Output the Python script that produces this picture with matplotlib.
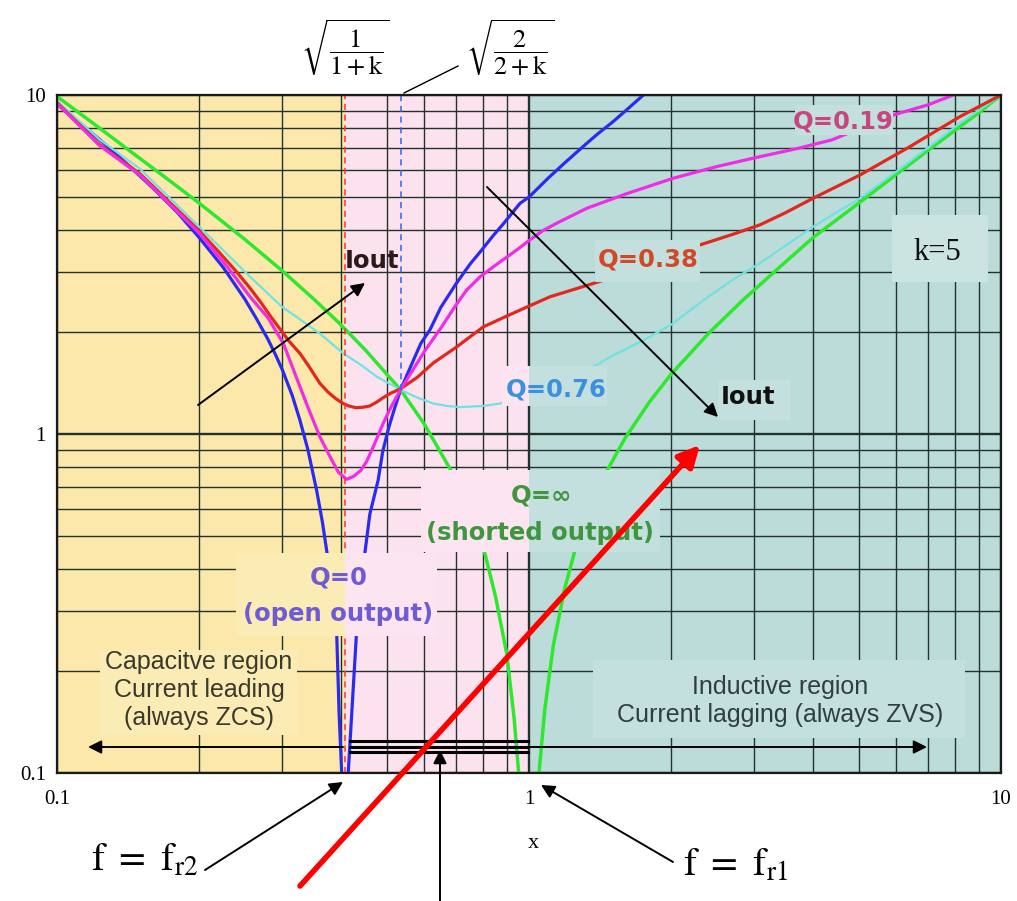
import numpy as np
import matplotlib.pyplot as plt
from matplotlib.patches import Rectangle
from matplotlib.colors import to_rgb
from matplotlib.ticker import NullFormatter

plt.rcParams['mathtext.fontset'] = 'stix'

# LLC gain curves, k = 5, x = f / fr1
fr2 = 0.408      # sqrt(1/(1+k))
fx = 0.5345      # sqrt(2/(2+k))
fr1 = 1.0

# Q = 0 (open output)
q0_left_x = [0.1, 0.11, 0.123, 0.14, 0.16, 0.18, 0.2, 0.225, 0.25, 0.265, 0.28, 0.29, 0.3, 0.315, 0.327,
             0.34, 0.355, 0.365, 0.3757, 0.3913, 0.396, 0.401]
q0_left_y = [9.4, 8.4, 7.4, 6.3, 5.3, 4.5, 3.8, 3.1, 2.5, 2.18, 1.9, 1.72, 1.55, 1.3, 1.1,
             0.90, 0.68, 0.55, 0.42, 0.26, 0.15, 0.1]
q0_right_x = [0.414, 0.431, 0.449, 0.46, 0.479, 0.49, 0.505, 0.52, 0.5345, 0.55, 0.57, 0.59, 0.617, 0.65,
              0.70, 0.75, 0.794, 0.84, 0.88, 0.957, 1.0, 1.1, 1.2, 1.325, 1.4, 1.5, 1.6, 1.747]
q0_right_y = [0.1, 0.258, 0.445, 0.58, 0.73, 0.89, 1.05, 1.2, 1.35, 1.48, 1.66, 1.85, 2.03, 2.36,
              2.77, 3.17, 3.49, 3.85, 4.15, 4.79, 5.0, 5.7, 6.37, 7.2, 7.69, 8.3, 8.97, 10]

# Q = 0.19
q019_x = [0.1, 0.123, 0.15, 0.2, 0.23, 0.2564, 0.28, 0.3017, 0.3245, 0.34, 0.3607, 0.38, 0.395, 0.411, 0.425,
          0.44, 0.453, 0.47, 0.491, 0.51, 0.5345, 0.56, 0.6, 0.65, 0.7, 0.738, 0.79, 0.85, 0.942, 1.0, 1.07,
          1.15, 1.325, 1.6, 2.02, 2.5, 3.087, 3.7, 4.38, 5.91, 7.0, 7.93]
q019_y = [9.45, 7.1, 5.8, 3.92, 3.1, 2.54, 2.2, 1.85, 1.42, 1.2, 0.98, 0.85, 0.77, 0.735, 0.75,
          0.78, 0.83, 0.93, 1.075, 1.2, 1.35, 1.5, 1.75, 2.05, 2.4, 2.66, 2.92, 3.15, 3.49, 3.72, 3.98,
          4.2, 4.63, 5.1, 5.68, 6.15, 6.58, 6.95, 7.37, 8.73, 9.35, 10]

# Q = 0.38
q038_x = [0.1, 0.123, 0.15, 0.2, 0.22, 0.24, 0.255, 0.27, 0.285, 0.3, 0.31, 0.327, 0.34, 0.3607, 0.375, 0.39,
          0.404, 0.415, 0.43, 0.446, 0.46, 0.475, 0.491, 0.51, 0.5345, 0.58, 0.627, 0.7, 0.8, 0.88, 0.957,
          1.108, 1.3, 1.484, 2.3, 2.7, 3.087, 3.5, 4.0, 5.03, 6.41, 8.18, 10]
q038_y = [9.5, 7.15, 5.85, 3.98, 3.45, 3.01, 2.72, 2.45, 2.2, 2.0, 1.88, 1.73, 1.6, 1.41, 1.33, 1.27,
          1.23, 1.21, 1.195, 1.20, 1.21, 1.24, 1.28, 1.32, 1.36, 1.47, 1.62, 1.80, 2.07, 2.2, 2.32,
          2.54, 2.72, 2.88, 3.61, 3.88, 4.14, 4.5, 4.96, 5.81, 7.04, 8.63, 10]

# Q = 0.76
q076_x = [0.1, 0.123, 0.15, 0.2, 0.2564, 0.3, 0.327, 0.36, 0.404, 0.44, 0.476, 0.5345, 0.58, 0.627, 0.67,
          0.714, 0.8, 0.868, 1.368, 1.5, 1.747, 2.0, 2.34, 2.7, 3.087, 3.5, 4.0, 5.03, 6.41, 8.18, 10]
q076_y = [9.6, 7.4, 6.05, 4.09, 2.91, 2.37, 2.18, 1.98, 1.73, 1.6, 1.476, 1.35, 1.28, 1.23, 1.21,
          1.20, 1.21, 1.23, 1.58, 1.70, 1.89, 2.10, 2.48, 2.85, 3.19, 3.6, 4.09, 4.96, 6.36, 8.25, 10]

# Q = inf (shorted output)
qinf_left_x = [0.1, 0.12, 0.1405, 0.17, 0.2, 0.25, 0.3, 0.35, 0.394, 0.45, 0.5345, 0.6, 0.691, 0.803, 0.85, 0.897, 0.93, 0.951]
qinf_left_y = [9.9, 8.2, 6.95, 5.7, 4.8, 3.75, 3.03, 2.5, 2.14, 1.77, 1.35, 1.07, 0.76, 0.455, 0.33, 0.225, 0.145, 0.1]
qinf_right_x = [1.05, 1.08, 1.126, 1.19, 1.252, 1.461, 1.6, 1.8, 2.0, 2.4, 2.845, 3.4, 4.0, 5.0, 6.0, 7.0, 8.0, 9.0, 10]
qinf_right_y = [0.1, 0.154, 0.238, 0.35, 0.455, 0.777, 0.975, 1.244, 1.5, 1.98, 2.49, 3.11, 3.8, 4.8, 5.83, 6.86, 7.88, 8.89, 10]

yellow = '#FBE8AA'
pink = '#FCE2EE'
teal = '#BCDCDA'
grid_c = '#22332D'

W, H = 1017, 901
fig = plt.figure(figsize=(W / 100, H / 100), dpi=100)
ax = fig.add_axes([57 / W, 1 - 773 / H, 944 / W, 678 / H])
ax.set_xscale('log')
ax.set_yscale('log')
ax.set_xlim(0.1, 10)
ax.set_ylim(0.1, 10)

regions = [(0.1, fr2, yellow), (fr2, fr1, pink), (fr1, 10, teal)]
for a, b, c in regions:
    ax.axvspan(a, b, color=c, lw=0, zorder=0)

ax.set_axisbelow(True)
ax.grid(which='minor', color=grid_c, lw=1.0)
ax.grid(which='major', color=grid_c, lw=1.7)
ax.tick_params(which='both', length=0)
ax.set_xticks([0.1, 1, 10])
ax.set_xticklabels(['0.1', '1', '10'])
ax.set_yticks([0.1, 1, 10])
ax.set_yticklabels(['0.1', '1', '10'])
ax.xaxis.set_minor_formatter(NullFormatter())
ax.yaxis.set_minor_formatter(NullFormatter())
ax.tick_params(axis='x', pad=12)
ax.tick_params(axis='y', pad=8)
for lab in ax.get_xticklabels() + ax.get_yticklabels():
    lab.set_fontfamily('Liberation Serif')
    lab.set_fontsize(15)
for s in ax.spines.values():
    s.set_linewidth(1.6)
    s.set_color('#1A1A1A')

# curves
ax.plot(q0_left_x, q0_left_y, color='#2B2BF0', lw=2.3, zorder=2)
ax.plot(q0_right_x, q0_right_y, color='#2B2BF0', lw=2.3, zorder=2)
ax.plot(qinf_left_x, qinf_left_y, color='#2EE82E', lw=2.5, zorder=2)
ax.plot(qinf_right_x, qinf_right_y, color='#2EE82E', lw=2.5, zorder=2)
ax.plot(q076_x, q076_y, color='#70E2E2', lw=1.6, zorder=2)
ax.plot(q038_x, q038_y, color='#E0281E', lw=2.3, zorder=2)
ax.plot(q019_x, q019_y, color='#F02CE6', lw=2.3, zorder=2)

# resonance markers
ax.axvline(fr2, color='#FF3030', lw=1.1, ls=(0, (4, 3)), zorder=2.5)
ax.plot([fx, fx], [1.35, 10], color='#3060FF', lw=1.1, ls=(0, (4, 3)), zorder=2.5)


def lighten(c, f):
    r, g, b = to_rgb(c)
    return (r + (1 - r) * f, g + (1 - g) * f, b + (1 - b) * f)


def mask(x0, x1, y0, y1, f=0.12):
    # label backgrounds hide grid and curves
    for a, b, c in regions:
        lo, hi = max(a, x0), min(b, x1)
        if lo < hi:
            ax.add_patch(Rectangle((lo, y0), hi - lo, y1 - y0, facecolor=lighten(c, f),
                                   lw=0, zorder=3))


mask(0.2394, 0.638, 0.2535, 0.446)     # Q=0
mask(0.590, 1.894, 0.449, 0.783)       # Q=inf
mask(0.1234, 0.3225, 0.1294, 0.2307)   # capacitive
mask(1.366, 8.39, 0.1268, 0.2155)      # inductive
mask(5.875, 9.39, 2.81, 4.43, 0.22)    # k=5
mask(3.66, 5.90, 7.62, 9.34)           # Q=0.19
mask(1.38, 2.30, 2.81, 3.73)           # Q=0.38
mask(0.876, 1.46, 1.21, 1.59)          # Q=0.76
mask(2.51, 3.57, 1.10, 1.443)          # Iout

# overlay in picture pixels (origin top-left)
ov = fig.add_axes([0, 0, 1, 1], zorder=5)
ov.set_xlim(0, W)
ov.set_ylim(H, 0)
ov.axis('off')

bold = dict(fontfamily='DejaVu Sans', fontweight='bold', fontsize=17.5, ha='center', va='center')
ov.text(843, 121, 'Q=0.19', color='#C8457E', **bold)
ov.text(648, 259, 'Q=0.38', color='#D04A28', **bold)
ov.text(556, 389, 'Q=0.76', color='#3C90E0', **bold)
ov.text(541, 496, 'Q=\u221e', color='#3E963E', **bold)
ov.text(540, 533, '(shorted output)', color='#3E963E', **bold)
ov.text(339, 578, 'Q=0', color='#6E5CD6', **bold)
ov.text(338, 614, '(open output)', color='#6E5CD6', **bold)
ov.text(372, 261, 'Iout', color='#2A1A1A', **bold)
ov.text(748, 397, 'Iout', color='#111111', **bold)
ov.text(937, 252, 'k=5', fontfamily='Liberation Serif', fontsize=22, ha='center', va='center', color='#111111')

ov.text(199, 690, 'Capacitve region\nCurrent leading\n(always ZCS)', fontfamily='Liberation Sans',
        fontsize=18, ha='center', va='center', linespacing=1.2, color='#3A3A2C')
ov.text(780, 701, 'Inductive region\nCurrent lagging (always ZVS)', fontfamily='Liberation Sans',
        fontsize=18, ha='center', va='center', linespacing=1.2, color='#2F3F3F')

ov.text(345, 48, r'$\sqrt{\dfrac{1}{1+\mathrm{k}}}$', fontsize=19, ha='center', va='center')
ov.text(510, 48, r'$\sqrt{\dfrac{2}{2+\mathrm{k}}}$', fontsize=19, ha='center', va='center')
ov.plot([404, 458], [93, 66], color='k', lw=1.0)

ov.text(145, 860, r'$\mathrm{f\ =\ f}_{\mathrm{r2}}$', fontsize=28, ha='center', va='center')
ov.text(735, 865, r'$\mathrm{f\ =\ f}_{\mathrm{r1}}$', fontsize=28, ha='center', va='center')
ov.text(533, 843, 'x', fontfamily='Liberation Serif', fontsize=16, ha='center', va='center')

arrow = dict(arrowstyle='-|>', color='k', lw=1.4, mutation_scale=20, shrinkA=0, shrinkB=0)
ov.annotate('', xy=(365, 283), xytext=(198, 405), arrowprops=arrow)
ov.annotate('', xy=(718, 417), xytext=(487, 187), arrowprops=arrow)
ov.annotate('', xy=(343, 782), xytext=(205, 870), arrowprops=arrow)
ov.annotate('', xy=(541, 785), xytext=(673, 862), arrowprops=arrow)
ov.annotate('', xy=(440, 750), xytext=(440, 901), arrowprops=arrow)
ov.annotate('', xy=(88, 747), xytext=(343, 747), arrowprops=arrow)
ov.annotate('', xy=(927, 747), xytext=(528, 747), arrowprops=arrow)
for yy in (741, 747, 752):
    ov.plot([350, 528], [yy, yy], color='k', lw=2.2)
ov.annotate('', xy=(700, 445), xytext=(300, 886),
            arrowprops=dict(arrowstyle='-|>', color='#FF0000', lw=4, mutation_scale=32, shrinkA=0, shrinkB=0))

fig.savefig('out.png', dpi=100)
